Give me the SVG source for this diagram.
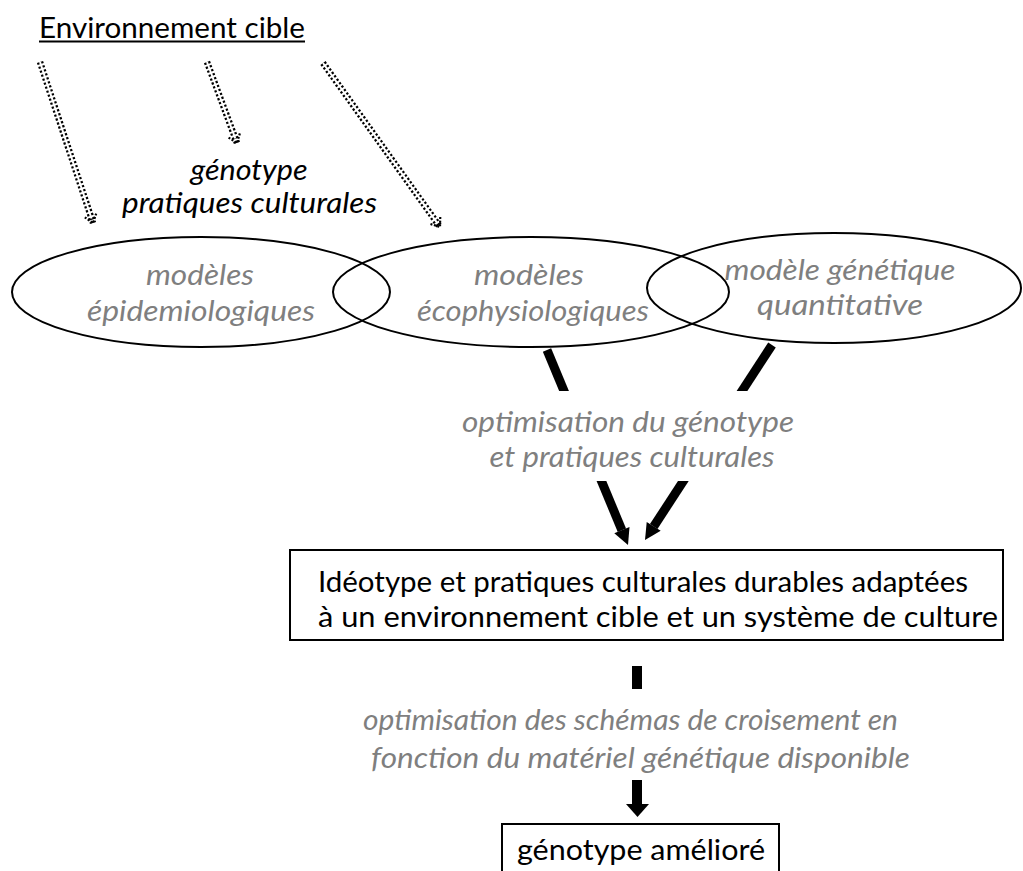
<svg xmlns="http://www.w3.org/2000/svg" width="1023" height="871" viewBox="0 0 1023 871">
  <style>
    text { font-family: Lato, "Liberation Sans", sans-serif; font-size: 29px; }
    .dark { fill: #000000; }
    .grey { fill: #7f7f7f; font-style: italic; }
    .it { font-style: italic; }
    .mid { text-anchor: middle; }
    .oval { fill: none; stroke: #000000; stroke-width: 2; }
    .frame { fill: #ffffff; stroke: #000000; stroke-width: 2; }
    .dots { fill: none; stroke: #000000; stroke-width: 6.5; stroke-dasharray: 2.2 2; }
    .dots-gap { fill: none; stroke: #ffffff; stroke-width: 2; }
    .bold-arrow { fill: none; stroke: #000000; stroke-width: 9; }
    .head { fill: #000000; }
  </style>
  <defs>
    <marker id="dot-head" markerUnits="userSpaceOnUse" markerWidth="20" markerHeight="20" viewBox="-12 -10 14 20" refX="0" refY="0" orient="auto">
      <path d="M-8,-6 L0,0 L-8,6" fill="none" stroke="#000000" stroke-width="2.2" stroke-dasharray="2 1.6"/>
    </marker>
  </defs>

  <rect width="1023" height="871" fill="#ffffff"/>

  <!-- connectors -->
  <g id="connectors">
    <!-- dotted double arrows from the target environment -->
    <line class="dots" x1="40" y1="62" x2="93" y2="223" marker-end="url(#dot-head)"/>
    <line class="dots-gap" x1="40" y1="62" x2="91.5" y2="218.5"/>
    <line class="dots" x1="207" y1="62" x2="237" y2="143" marker-end="url(#dot-head)"/>
    <line class="dots-gap" x1="207" y1="62" x2="235.3" y2="138.5"/>
    <line class="dots" x1="323" y1="63" x2="440" y2="227" marker-end="url(#dot-head)"/>
    <line class="dots-gap" x1="323" y1="63" x2="437.3" y2="223.2"/>

    <!-- thick arrows towards the ideotype -->
    <line class="bold-arrow" x1="547" y1="350" x2="621.9" y2="530.2"/>
    <polygon class="head" points="628,545 629.5,527.1 614.3,533.3"/>
    <line class="bold-arrow" x1="772" y1="345" x2="653.7" y2="526.5"/>
    <polygon class="head" points="645,540 660.7,530.8 646.7,521.9"/>

    <!-- short bar and arrow to the improved genotype -->
    <rect class="head" x="632" y="666" width="10" height="23"/>
    <rect class="head" x="632" y="780" width="10" height="25"/>
    <polygon class="head" points="626,804 649,804 637.5,817"/>
  </g>

  <g id="environnement">
    <text class="dark" x="39" y="38" textLength="266" lengthAdjust="spacingAndGlyphs">Environnement cible</text>
    <line x1="39" y1="41.5" x2="305" y2="41.5" stroke="#000000" stroke-width="2"/>
  </g>

  <g id="entrees">
    <text class="dark it mid" x="249" y="180" textLength="117" lengthAdjust="spacingAndGlyphs">génotype</text>
    <text class="dark it mid" x="249.5" y="213" textLength="255" lengthAdjust="spacingAndGlyphs">pratiques culturales</text>
  </g>

  <g id="epidemio">
    <ellipse class="oval" cx="201" cy="292" rx="189" ry="55"/>
    <text class="grey mid" x="200" y="285" textLength="108" lengthAdjust="spacingAndGlyphs">modèles</text>
    <text class="grey mid" x="201" y="321" textLength="228" lengthAdjust="spacingAndGlyphs">épidemiologiques</text>
  </g>

  <g id="ecophysio">
    <ellipse class="oval" cx="531" cy="292" rx="198" ry="55"/>
    <text class="grey mid" x="529" y="285" textLength="110" lengthAdjust="spacingAndGlyphs">modèles</text>
    <text class="grey mid" x="533" y="321" textLength="232" lengthAdjust="spacingAndGlyphs">écophysiologiques</text>
  </g>

  <g id="genetique">
    <ellipse class="oval" cx="834" cy="288" rx="187" ry="55"/>
    <text class="grey mid" x="840" y="280" textLength="231" lengthAdjust="spacingAndGlyphs">modèle génétique</text>
    <text class="grey mid" x="840" y="315" textLength="166" lengthAdjust="spacingAndGlyphs">quantitative</text>
  </g>

  <g id="optimisation-ideotype">
    <rect x="450" y="391" width="360" height="90" fill="#ffffff"/>
    <text class="grey mid" x="628" y="432" textLength="332" lengthAdjust="spacingAndGlyphs">optimisation du génotype</text>
    <text class="grey mid" x="632" y="467" textLength="285" lengthAdjust="spacingAndGlyphs">et pratiques culturales</text>
  </g>

  <g id="ideotype">
    <rect class="frame" x="290" y="550" width="713" height="90"/>
    <text class="dark" x="318" y="592" textLength="650" lengthAdjust="spacingAndGlyphs">Idéotype et pratiques culturales durables adaptées</text>
    <text class="dark" x="318" y="627" textLength="680" lengthAdjust="spacingAndGlyphs">à un environnement cible et un système de culture</text>
  </g>

  <g id="optimisation-croisement">
    <text class="grey" x="363" y="730" textLength="535" lengthAdjust="spacingAndGlyphs">optimisation des schémas de croisement en</text>
    <text class="grey" x="371" y="768" textLength="539" lengthAdjust="spacingAndGlyphs">fonction du matériel génétique disponible</text>
  </g>

  <g id="genotype-ameliore">
    <rect class="frame" x="502" y="824" width="277" height="60"/>
    <text class="dark" x="517" y="860" textLength="248" lengthAdjust="spacingAndGlyphs">génotype amélioré</text>
  </g>
</svg>
